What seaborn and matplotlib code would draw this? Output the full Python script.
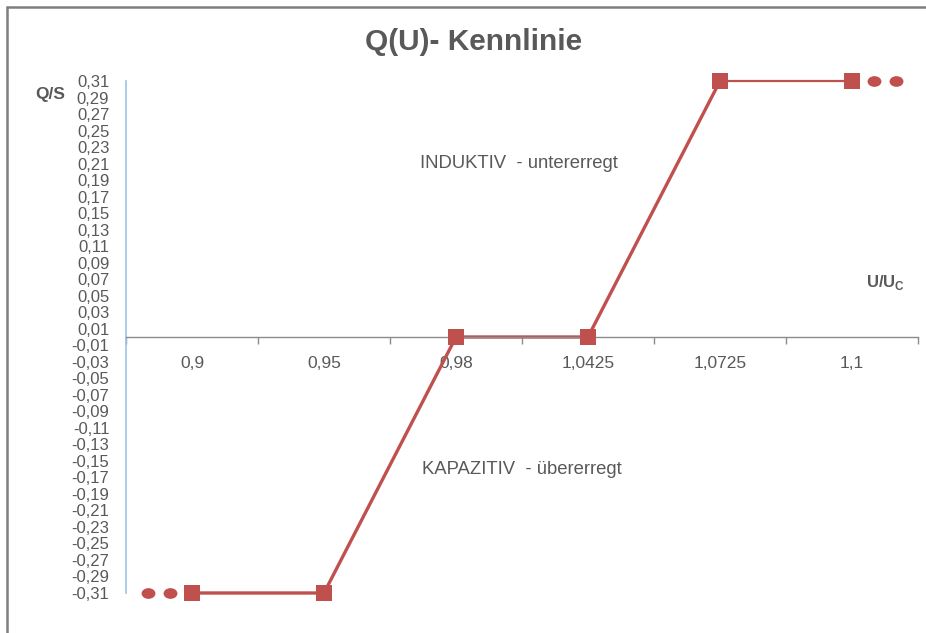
import numpy as np
import matplotlib
matplotlib.use('Agg')
import matplotlib.pyplot as plt
import matplotlib.ticker as mticker
from matplotlib.lines import Line2D
from matplotlib.path import Path
from matplotlib.transforms import Affine2D
import pandas as pd
import seaborn as sns

# data
categories = ['0,9', '0,95', '0,98', '1,0425', '1,0725', '1,1']
q_s = [-0.31, -0.31, 0.0, 0.0, 0.31, 0.31]
y_ticks = np.round(np.arange(-0.31, 0.311, 0.02), 2)
dot_offsets = [0.17, 0.33]  # "continues" dots beyond the end points

red = '#C0504D'
grey = '#595959'

sns.set_theme(style='white')
plt.rcParams['font.family'] = ['Liberation Sans', 'DejaVu Sans']

df = pd.DataFrame({'pos': np.arange(len(categories)), 'q': q_s})

fig = plt.figure(figsize=(9.26, 6.33), dpi=100)
ax = fig.add_axes([126 / 926, 40 / 633, 792 / 926, 512 / 633])

# thick segments
sns.lineplot(data=df.iloc[:5], x='pos', y='q', ax=ax, color=red, linewidth=2.4,
             estimator=None, sort=False, clip_on=False)
# thin last segment
sns.lineplot(data=df.iloc[4:], x='pos', y='q', ax=ax, color=red, linewidth=1.6,
             estimator=None, sort=False, clip_on=False)
# square markers
sns.scatterplot(data=df, x='pos', y='q', ax=ax, marker='s', s=130, color=red,
                edgecolor=red, linewidth=0, zorder=5, clip_on=False)

# continuation dots (slightly wide ellipses)
ellipse = Path.unit_circle().transformed(Affine2D().scale(1.3, 1.0))
first, last = df.iloc[0], df.iloc[-1]
for off in dot_offsets:
    for x, y in [(first.pos - off, first.q), (last.pos + off, last.q)]:
        ax.plot(x, y, marker=ellipse, ms=10, color=red, markeredgewidth=0,
                linestyle='none', clip_on=False)

ax.set_xlim(-0.5, len(categories) - 0.5)
ax.set_ylim(-0.31, 0.31)
ax.set_xlabel('')
ax.set_ylabel('')

# axes styling like Excel
for s in ['top', 'right']:
    ax.spines[s].set_visible(False)
ax.spines['left'].set_color('#9DC3E6')
ax.spines['left'].set_linewidth(1.2)
ax.spines['bottom'].set_position(('data', 0))
ax.spines['bottom'].set_color('#8C8C8C')
ax.spines['bottom'].set_linewidth(1.0)

ax.set_xticks(range(len(categories)))
ax.set_xticklabels(categories)
ax.xaxis.set_minor_locator(mticker.FixedLocator(np.arange(-0.5, len(categories), 1)))
ax.tick_params(axis='x', which='major', length=0, pad=14, labelsize=12.5, labelcolor=grey)
ax.tick_params(axis='x', which='minor', length=5, width=1, color='#8C8C8C',
               direction='out', bottom=True)

ax.set_yticks(y_ticks)
ax.set_yticklabels([f'{v:.2f}'.replace('.', ',') for v in y_ticks])
ax.tick_params(axis='y', length=0, pad=12, labelsize=12, labelcolor=grey)

# texts
fig.text(474 / 926, 1 - 42 / 633, 'Q(U)- Kennlinie', ha='center', va='center',
         fontsize=21.5, fontweight='bold', color=grey)
fig.text(50 / 926, 1 - 95 / 633, 'Q/S', ha='center', va='center',
         fontsize=12.5, fontweight='bold', color=grey)
fig.text(885 / 926, 1 - 283 / 633, r'U/U$_\mathregular{C}$', ha='center', va='center',
         fontsize=12, fontweight='bold', color=grey)
ax.text(2.48, 0.21, 'INDUKTIV  - untererregt', ha='center', va='center',
        fontsize=13.3, color=grey)
ax.text(2.5, -0.16, 'KAPAZITIV  - übererregt', ha='center', va='center',
        fontsize=13.3, color=grey)

# frame lines at top/left of the image
fig.add_artist(Line2D([7 / 926, 1], [1 - 7 / 633, 1 - 7 / 633], color='#7F7F7F', lw=1.8,
                      transform=fig.transFigure))
fig.add_artist(Line2D([7 / 926, 7 / 926], [0, 1 - 7 / 633], color='#7F7F7F', lw=1.8,
                      transform=fig.transFigure))

fig.savefig('out.png', dpi=100)
